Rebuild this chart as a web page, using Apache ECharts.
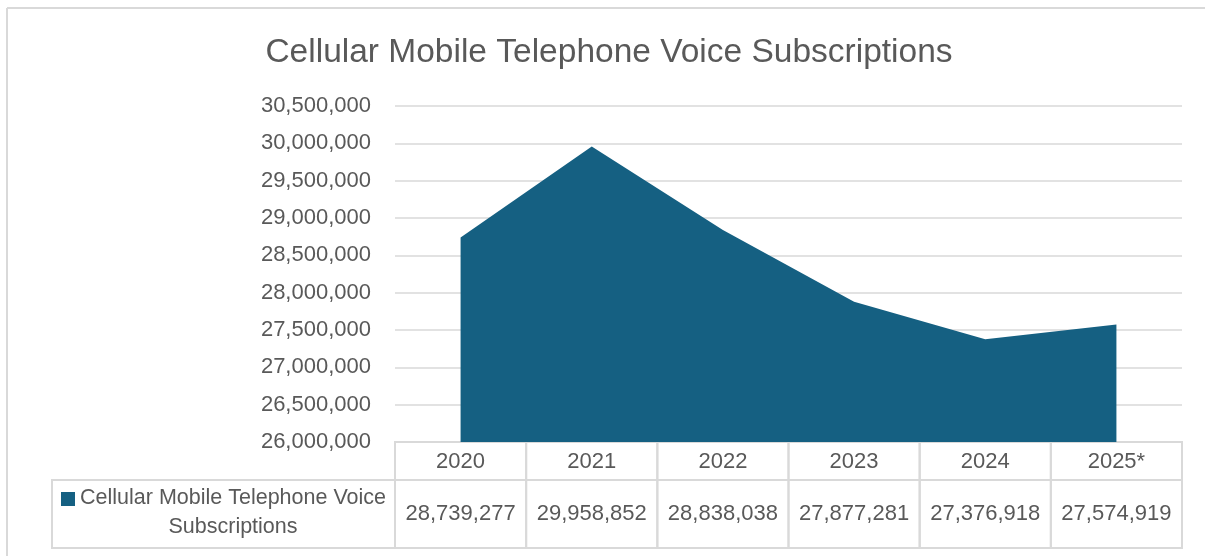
<!DOCTYPE html>
<html>
<head>
<meta charset="utf-8">
<script src="https://cdn.jsdelivr.net/npm/echarts@6/dist/echarts.min.js"></script>
<style>
html,body{margin:0;padding:0;background:#fff;}
#c{width:1205px;height:556px;}
</style>
</head>
<body>
<div id="c"></div>
<script>
var categories = ['2020', '2021', '2022', '2023', '2024', '2025*'];
var values = [28739277, 29958852, 28838038, 27877281, 27376918, 27574919];
var seriesName = 'Cellular Mobile Telephone Voice Subscriptions';
var legendLines = ['Cellular Mobile Telephone Voice', 'Subscriptions'];
var yMin = 26000000, yMax = 30500000, yStep = 500000;

var FONT = '"Liberation Sans", Arial, sans-serif';
var TXT = '#595959';
var GRID = '#D9D9D9';
var FILL = '#156082';

function fmt(v) { return String(v).replace(/\B(?=(\d{3})+(?!\d))/g, ','); }

var chart = echarts.init(document.getElementById('c'), null, {renderer: 'canvas'});
var option = {
  backgroundColor: '#ffffff',
  animation: false,
  title: {
    text: 'Cellular Mobile Telephone Voice Subscriptions',
    left: 604, top: 31, textAlign: 'center',
    textStyle: {fontFamily: FONT, fontSize: 33.5, fontWeight: 'normal', color: TXT}
  },
  grid: [
    {left: 395, right: 23, top: 106, height: 336},
    {left: 395, right: 23, top: 442, height: 106}
  ],
  xAxis: [
    {type: 'category', gridIndex: 0, data: categories, boundaryGap: true,
     axisLine: {show: false}, axisTick: {show: false}, axisLabel: {show: false}},
    {type: 'category', gridIndex: 1, data: categories, boundaryGap: true, show: false}
  ],
  yAxis: [
    {type: 'value', gridIndex: 0, min: yMin, max: yMax, interval: yStep,
     axisLine: {show: false}, axisTick: {show: false},
     axisLabel: {formatter: function (v) { return fmt(v); }, color: TXT, fontFamily: FONT, fontSize: 22, margin: 24},
     splitLine: {lineStyle: {color: GRID, width: 1.5}}},
    {type: 'value', gridIndex: 1, min: 0, max: 1, show: false}
  ],
  series: [
    {
      name: seriesName, type: 'line', xAxisIndex: 0, yAxisIndex: 0,
      data: values, symbol: 'none', lineStyle: {width: 0, color: FILL},
      areaStyle: {color: FILL, opacity: 1, origin: 'start'}, z: 3
    },
    {
      type: 'custom', xAxisIndex: 1, yAxisIndex: 1,
      data: categories.map(function (c, i) { return [i, values[i]]; }),
      renderItem: function (params, api) {
        var idx = api.value(0);
        var cx = api.coord([idx, 0])[0];
        var w = api.size([1, 0])[0];
        var cs = params.coordSys;
        var top = cs.y, H = cs.height, hh = 38;
        var x0 = cx - w / 2;
        var ls = {stroke: GRID, fill: null, lineWidth: 2};
        var kids = [
          {type: 'rect', shape: {x: x0, y: top, width: w, height: hh}, style: ls},
          {type: 'rect', shape: {x: x0, y: top + hh, width: w, height: H - hh}, style: ls},
          {type: 'text', style: {text: categories[idx], x: cx, y: top + hh / 2 + 1, align: 'center', verticalAlign: 'middle',
            fill: TXT, font: '22px ' + FONT}},
          {type: 'text', style: {text: fmt(api.value(1)), x: cx, y: top + hh + (H - hh) / 2, align: 'center', verticalAlign: 'middle',
            fill: TXT, font: '22px ' + FONT}}
        ];
        if (idx === 0) {
          var lx = 52;
          kids.push({type: 'rect', shape: {x: lx, y: top + hh, width: x0 - lx, height: H - hh}, style: ls});
          kids.push({type: 'rect', shape: {x: 61, y: top + hh + 12, width: 14, height: 14}, style: {fill: FILL}});
          kids.push({type: 'text', style: {text: legendLines[0], x: 233, y: top + hh + 18, align: 'center', verticalAlign: 'middle',
            fill: TXT, font: '21.5px ' + FONT}});
          kids.push({type: 'text', style: {text: legendLines[1], x: 233, y: top + hh + 47, align: 'center', verticalAlign: 'middle',
            fill: TXT, font: '21.5px ' + FONT}});
        }
        return {type: 'group', children: kids};
      }
    }
  ],
  graphic: [
    {type: 'line', shape: {x1: 7, y1: 8, x2: 1205, y2: 8}, style: {stroke: GRID, lineWidth: 2}},
    {type: 'line', shape: {x1: 7, y1: 8, x2: 7, y2: 556}, style: {stroke: GRID, lineWidth: 2}}
  ]
};
chart.setOption(option);
</script>
</body>
</html>
